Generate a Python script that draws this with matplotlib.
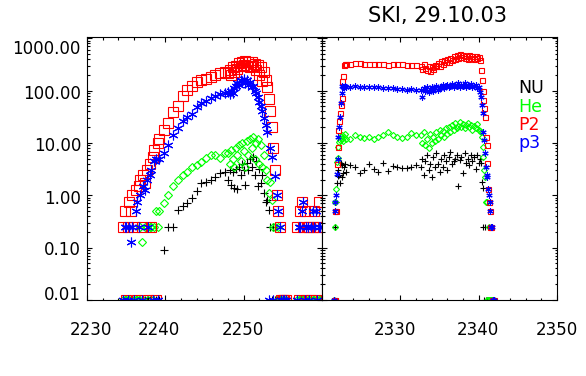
import matplotlib
matplotlib.use('Agg')
import matplotlib.pyplot as plt
import numpy as np
from matplotlib.ticker import FixedLocator, MultipleLocator, LogLocator

# ---- data: left panel (2230-2260) ----
t_left = [2234.6, 2234.8, 2235.0, 2235.2, 2235.4, 2235.6, 2235.8, 2236.0, 2236.2, 2236.4,
          2236.6, 2236.8, 2237.0, 2237.2, 2237.4, 2237.6, 2237.8, 2238.0, 2238.2, 2238.4,
          2238.6, 2238.8, 2239.0,
          2239.2, 2239.8, 2240.4, 2241.0, 2241.6, 2242.2, 2242.8, 2243.4, 2244.0, 2244.6,
          2245.2, 2245.8, 2246.4, 2247.0, 2247.6,
          2248.0, 2248.2, 2248.4, 2248.6, 2248.8, 2249.0, 2249.2, 2249.4, 2249.6, 2249.8,
          2250.0, 2250.2, 2250.4, 2250.6, 2250.8, 2251.0, 2251.2, 2251.4, 2251.6, 2251.8,
          2252.0, 2252.2, 2252.4, 2252.6, 2252.8, 2253.0, 2253.2, 2253.4, 2253.6, 2253.8,
          2254.0, 2254.2, 2254.4, 2254.6, 2254.8, 2255.0, 2255.2, 2255.4,
          2256.8, 2257.0, 2257.2, 2257.4, 2257.6, 2257.8, 2258.0, 2258.2, 2258.4, 2258.6,
          2258.8, 2259.0, 2259.2, 2259.4, 2259.6, 2259.8]
nu_left = [0, 0, 0, 0, 0, 0, 0, 0, 0, 0, 0, 0, 0, 0, 0, 0, 0, 0, 0, 0, 0, 0, 0,
           0, 0.09, 0.25, 0.25, 0.53, 0.62, 0.72, 0.9, 1.2, 1.75, 1.8, 2.0, 2.2, 2.7, 2.8,
           2.0, 3.0, 1.6, 2.8, 1.4, 3.2, 1.3, 3.5, 2.5, 4.0, 3.0, 1.6, 4.2, 3.0, 5.0, 3.5,
           5.5, 2.5, 4.5, 1.5, 3.2, 1.75, 2.5, 1.1, 0.75, 0.8, 0.53, 0.25, 0, 0.25, 0, 0,
           0, 0, 0, 0, 0, 0,
           0, 0, 0, 0, 0, 0, 0, 0, 0, 0, 0, 0, 0, 0, 0, 0]
he_left = [0, 0, 0, 0, 0, 0, 0, 0, 0, 0, 0, 0.25, 0.13, 0, 0.25, 0.25, 0, 0.25, 0.25, 0,
           0.25, 0.5, 0.25,
           0.5, 0.72, 1.0, 1.5, 2.0, 2.4, 2.8, 3.5, 3.8, 4.4, 5.2, 6.0, 5.8, 5.2, 6.5,
           6.5, 4.0, 7.5, 5.0, 3.5, 8.0, 6.0, 9.0, 4.5, 10, 7.0, 3.5, 11, 6.0, 12, 8.0,
           13, 5.0, 10, 12, 4.0, 9.0, 3.5, 6.0, 3.0, 2.0, 1.1, 1.8, 0.8, 0.25, 0.25, 0,
           0.25, 0, 0, 0, 0, 0,
           0, 0, 0, 0, 0, 0, 0, 0, 0, 0, 0, 0, 0, 0, 0, 0]
p2_left = [0.25, 0.5, 0, 0.25, 0.75, 0.5, 1.0, 0.25, 1.25, 0, 1.5, 2.0, 0.25, 2.5, 1.75,
           3.0, 0, 4.0, 0.25, 5.5, 7.5, 0, 10,
           12, 18, 24, 39, 50, 80, 105, 125, 145, 160, 165, 180, 200, 215, 230,
           220, 250, 200, 280, 230, 300, 260, 340, 290, 360, 310, 370, 300, 350, 280, 360,
           290, 330, 250, 310, 200, 280, 150, 230, 160, 120, 70, 40, 20, 8, 3, 1.0,
           0.5, 0.25, 0, 0, 0, 0,
           0.25, 0, 0.5, 0.75, 0.25, 0.5, 0, 0.25, 0.25, 0, 0.25, 0.5, 0, 0.25, 0.75, 0.25]
p3_left = [0, 0.25, 0.25, 0, 0.25, 0.13, 0.25, 0, 0.5, 0.75, 0.25, 1.0, 0, 1.5, 1.25,
           2.0, 0.25, 2.5, 3.0, 0, 4.5, 5.0, 0,
           5, 6.5, 9, 14, 19, 26, 31, 36, 48, 58, 64, 72, 80, 85, 90,
           95, 85, 100, 92, 110, 125, 140, 130, 160, 150, 170, 140, 160, 130, 145, 115,
           125, 100, 90, 75, 60, 50, 40, 30, 22, 16, 0, 8, 5.5, 0, 2.3, 1.0,
           0.5, 0.25, 0, 0, 0, 0,
           0, 0.25, 0.25, 0.5, 0.75, 0, 0.25, 0.25, 0, 0.25, 0.5, 0.25, 0.5, 0, 0.25, 0.25]

# ---- data: right panel (2320-2350) ----
t_right = [2321.5, 2321.6, 2321.7, 2321.8, 2321.9, 2322.0, 2322.1, 2322.2, 2322.3, 2322.4,
           2322.5, 2322.6, 2322.7, 2322.8, 2322.9, 2323.0,
           2323.6, 2324.2, 2324.8, 2325.4, 2326.0, 2326.6, 2327.2, 2327.8, 2328.4, 2329.0,
           2329.6, 2330.2, 2330.8, 2331.4, 2332.0,
           2332.6, 2332.8, 2333.0, 2333.2, 2333.4, 2333.6, 2333.8, 2334.0, 2334.2, 2334.4,
           2334.6, 2334.8, 2335.0, 2335.2, 2335.4, 2335.6, 2335.8, 2336.0, 2336.2, 2336.4,
           2336.6, 2336.8, 2337.0, 2337.2, 2337.4, 2337.6, 2337.8, 2338.0, 2338.2, 2338.4,
           2338.6, 2338.8, 2339.0, 2339.2, 2339.4, 2339.6, 2339.8, 2340.0, 2340.2,
           2340.3, 2340.4, 2340.5, 2340.6, 2340.7, 2340.8, 2340.9, 2341.0, 2341.1, 2341.2,
           2341.3, 2341.4, 2341.5, 2341.6, 2341.7, 2341.8, 2341.9]
nu_right = [0, 0.25, 0.25, 0.75, 1.75, 2.3, 3.1, 2.5, 1.75, 4.2, 2.2, 3.8, 2.7, 3.5, 4.0, 2.8,
            3.8, 3.5, 2.7, 3.0, 4.0, 3.2, 2.8, 4.2, 2.9, 3.6, 3.5, 3.3, 3.4, 3.5, 3.8,
            3.5, 5.0, 2.5, 4.5, 6.0, 3.0, 4.0, 2.2, 5.5, 3.5, 6.5, 4.0, 2.8, 5.0, 3.5, 6.0,
            4.5, 3.0, 5.5, 6.8, 4.0, 4.5, 5.0, 6.0, 1.5, 4.8, 5.5, 2.7, 6.5, 4.2, 5.0, 3.8,
            6.0, 4.5, 5.5, 3.2, 6.0, 4.2, 5.0,
            4.2, 1.8, 1.4, 0.25, 0, 0.25, 0, 0, 0, 0, 0, 0, 0, 0, 0, 0, 0]
he_right = [0, 0.25, 0.75, 1.3, 4.4, 5.2, 8.5, 10.5, 11.5, 13, 14, 12, 11, 13, 15, 12,
            12, 14, 13, 12.5, 13, 12, 13, 14, 16, 14, 13, 12.5, 13, 15.5, 14,
            14, 10, 16, 9, 12, 8, 15, 10, 13, 11, 16, 12, 18, 14, 17, 13, 19, 15, 20, 16,
            22, 18, 24, 19, 21, 25, 20, 23, 19, 22, 24, 20, 22, 18, 21, 19, 23, 18, 17,
            16, 13, 8.5, 5.5, 3.1, 2.2, 0.75, 0, 0.75, 0, 0.25, 0, 0, 0, 0, 0, 0]
p2_right = [0, 0, 0.5, 0.5, 4, 8.5, 18, 26, 38, 53, 73, 150, 190, 310, 320, 330,
            330, 340, 335, 325, 330, 320, 330, 325, 315, 320, 330, 320, 310, 315, 305,
            300, 260, 320, 270, 250, 290, 240, 280, 260, 310, 290, 340, 300, 370, 330, 390,
            350, 400, 360, 420, 380, 450, 400, 470, 420, 500, 440, 480, 420, 460, 400, 470,
            430, 450, 400, 460, 420, 440, 380,
            250, 160, 100, 67, 47, 32, 13, 9, 4.2, 1.3, 0.75, 0.25, 0.5, 0.25, 0, 0, 0]
p3_right = [0, 0.5, 0.75, 1.0, 2.6, 5, 13, 20, 32, 58, 90, 122, 115, 120, 125, 118,
            118, 122, 120, 118, 116, 117, 115, 113, 112, 110, 108, 106, 105, 107, 104,
            105, 76, 110, 100, 115, 95, 108, 120, 100, 112, 125, 105, 118, 110, 128, 112,
            122, 130, 115, 125, 135, 118, 128, 122, 138, 120, 130, 125, 140, 118, 128, 122,
            135, 115, 125, 130, 110, 120, 95,
            76, 53, 38, 16, 11.5, 6.5, 3.5, 2.5, 2.2, 1.3, 1.0, 0.75, 0.5, 0.25, 0.25, 0, 0]

names = ['NU', 'He', 'P2', 'p3']
colors = ['black', '#00ff00', '#ff0000', '#0000ff']
markers = ['+', 'D', 's', (6, 2, 0)]
sizes_left = [5.8, 3.6, 6.5, 7.0]
sizes_right = [4.3, 3.1, 3.6, 4.5]

FLOOR = 0.0098  # zero counts end up on the bottom axis


def on_floor(v):
    v = np.asarray(v, dtype=float)
    return np.where(v > 0, v, FLOOR)


fig = plt.figure(figsize=(5.86, 3.76), dpi=100)
ax_l = fig.add_axes([87 / 586, 76 / 376, 235 / 586, 263 / 376])
ax_r = fig.add_axes([322 / 586, 76 / 376, 235 / 586, 263 / 376])

panels = [
    (ax_l, t_left, [nu_left, he_left, p2_left, p3_left], sizes_left, (2230, 2260)),
    (ax_r, t_right, [nu_right, he_right, p2_right, p3_right], sizes_right, (2320, 2350)),
]

for ax, t, series, sizes, xr in panels:
    for vals, c, m, ms in zip(series, colors, markers, sizes):
        ax.plot(t, on_floor(vals), linestyle='none', marker=m, ms=ms,
                mec=c, mfc='none', mew=0.8)
    ax.set_yscale('log')
    ax.set_ylim(0.01, 1060)
    ax.set_xlim(*xr)
    ax.xaxis.set_major_locator(FixedLocator(list(range(xr[0], xr[1] + 1, 10))))
    ax.xaxis.set_minor_locator(MultipleLocator(2))
    ax.yaxis.set_major_locator(LogLocator(base=10, numticks=10))
    ax.yaxis.set_minor_locator(LogLocator(base=10, subs=np.arange(2, 10), numticks=10))
    ax.tick_params(which='both', direction='in', top=True, right=True,
                   labelbottom=False, labelleft=False, width=0.8, color='black')
    ax.tick_params(which='major', length=3.4)
    ax.tick_params(which='minor', length=1.8)
    for s in ax.spines.values():
        s.set_linewidth(0.8)

# y tick labels (left panel only), nudged like the original
ylab_vals = [1000, 100, 10, 1, 0.1, 0.01]
ylab_text = ['1000.00', '100.00', '10.00', '1.00', '0.10', '0.01']
ylab_dy = [-10.7, -3.3, -2.9, -3.3, -2.7, 5.1]
for v, s, dy in zip(ylab_vals, ylab_text, ylab_dy):
    ax_l.annotate(s, xy=(0, v), xycoords=('axes fraction', 'data'),
                  xytext=(-6, dy), textcoords='offset pixels',
                  ha='right', va='center', fontsize=12, annotation_clip=False)

# x tick labels
xlab_left = [(2230, 3.5), (2240, -6), (2250, -0.7)]
xlab_right = [(2330, -5), (2340, -0.5), (2350, 0)]
for ax, labs in ((ax_l, xlab_left), (ax_r, xlab_right)):
    for v, dx in labs:
        ax.annotate(str(v), xy=(v, 0), xycoords=('data', 'axes fraction'),
                    xytext=(dx, -30), textcoords='offset pixels',
                    ha='center', va='center', fontsize=12, annotation_clip=False)

fig.text(438 / 586, 1 - 15.5 / 376, 'SKI, 29.10.03', ha='center', va='center', fontsize=15)

# legend as coloured words
legend_base = [93, 112, 130, 148]
for name, c, yb in zip(names, colors, legend_base):
    fig.text(518 / 586, 1 - yb / 376, name, color=c, ha='left', va='baseline', fontsize=12.5)

fig.savefig('out.png', dpi=100)
